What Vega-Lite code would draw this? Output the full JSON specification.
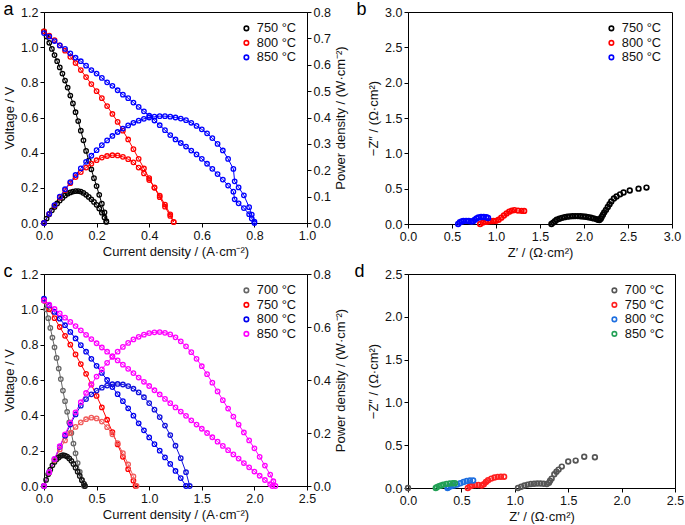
{
"$schema":"https://vega.github.io/schema/vega-lite/v6.json",
"padding":{"left":3,"top":0,"right":2,"bottom":2},
"config":{
 "font":"Liberation Sans",
 "view":{"stroke":"#000","strokeWidth":1},
 "axis":{"grid":false,"domainColor":"#000","tickColor":"#000","labelColor":"#111","titleColor":"#111","labelFontSize":12.5,"titleFontSize":13,"titleFontWeight":"normal","tickSize":4,"labelPadding":2,"titlePadding":4,"labelFlush":false,"labelOverlap":false},
 "legend":{"orient":"top-right","offset":10,"labelFontSize":12.8,"symbolSize":20,"symbolStrokeWidth":1.6,"rowPadding":0.5,"labelOffset":4,"labelColor":"#111"},
 "title":{"anchor":"start","frame":"bounds","fontSize":18,"fontWeight":"normal","color":"#000","offset":-13}
},
"datasets":{
"aV":[
{"t":"750","x":0,"y":1.09},{"t":"750","x":0.01,"y":1.06},{"t":"750","x":0.02,"y":1.025},{"t":"750","x":0.03,"y":0.99},{"t":"750","x":0.04,"y":0.955},{"t":"750","x":0.05,"y":0.92},{"t":"750","x":0.06,"y":0.885},{"t":"750","x":0.07,"y":0.85},{"t":"750","x":0.08,"y":0.81},{"t":"750","x":0.09,"y":0.77},{"t":"750","x":0.1,"y":0.725},{"t":"750","x":0.11,"y":0.68},{"t":"750","x":0.12,"y":0.63},{"t":"750","x":0.13,"y":0.58},{"t":"750","x":0.14,"y":0.525},{"t":"750","x":0.15,"y":0.47},{"t":"750","x":0.16,"y":0.41},{"t":"750","x":0.17,"y":0.355},{"t":"750","x":0.18,"y":0.305},{"t":"750","x":0.19,"y":0.255},{"t":"750","x":0.2,"y":0.21},{"t":"750","x":0.21,"y":0.16},{"t":"750","x":0.22,"y":0.11},{"t":"750","x":0.23,"y":0.06},{"t":"750","x":0.237,"y":0.01},
{"t":"800","x":0,"y":1.09},{"t":"800","x":0.02,"y":1.065},{"t":"800","x":0.04,"y":1.04},{"t":"800","x":0.06,"y":1.01},{"t":"800","x":0.08,"y":0.98},{"t":"800","x":0.1,"y":0.945},{"t":"800","x":0.12,"y":0.91},{"t":"800","x":0.14,"y":0.87},{"t":"800","x":0.16,"y":0.83},{"t":"800","x":0.18,"y":0.79},{"t":"800","x":0.2,"y":0.75},{"t":"800","x":0.22,"y":0.71},{"t":"800","x":0.24,"y":0.665},{"t":"800","x":0.26,"y":0.62},{"t":"800","x":0.28,"y":0.575},{"t":"800","x":0.3,"y":0.525},{"t":"800","x":0.32,"y":0.475},{"t":"800","x":0.34,"y":0.42},{"t":"800","x":0.36,"y":0.365},{"t":"800","x":0.38,"y":0.31},{"t":"800","x":0.4,"y":0.255},{"t":"800","x":0.42,"y":0.2},{"t":"800","x":0.44,"y":0.147},{"t":"800","x":0.46,"y":0.093},{"t":"800","x":0.48,"y":0.04},{"t":"800","x":0.493,"y":0.005},
{"t":"850","x":0,"y":1.08},{"t":"850","x":0.02,"y":1.06},{"t":"850","x":0.04,"y":1.035},{"t":"850","x":0.06,"y":1.01},{"t":"850","x":0.08,"y":0.99},{"t":"850","x":0.1,"y":0.965},{"t":"850","x":0.12,"y":0.94},{"t":"850","x":0.14,"y":0.92},{"t":"850","x":0.16,"y":0.895},{"t":"850","x":0.18,"y":0.87},{"t":"850","x":0.2,"y":0.85},{"t":"850","x":0.22,"y":0.825},{"t":"850","x":0.24,"y":0.8},{"t":"850","x":0.26,"y":0.78},{"t":"850","x":0.28,"y":0.755},{"t":"850","x":0.3,"y":0.73},{"t":"850","x":0.32,"y":0.71},{"t":"850","x":0.34,"y":0.685},{"t":"850","x":0.36,"y":0.66},{"t":"850","x":0.38,"y":0.635},{"t":"850","x":0.4,"y":0.61},{"t":"850","x":0.42,"y":0.583},{"t":"850","x":0.44,"y":0.556},{"t":"850","x":0.46,"y":0.528},{"t":"850","x":0.48,"y":0.5},{"t":"850","x":0.5,"y":0.475},{"t":"850","x":0.52,"y":0.455},{"t":"850","x":0.54,"y":0.435},{"t":"850","x":0.56,"y":0.412},{"t":"850","x":0.58,"y":0.39},{"t":"850","x":0.6,"y":0.365},{"t":"850","x":0.62,"y":0.337},{"t":"850","x":0.64,"y":0.308},{"t":"850","x":0.66,"y":0.278},{"t":"850","x":0.68,"y":0.247},{"t":"850","x":0.7,"y":0.213},{"t":"850","x":0.72,"y":0.178},{"t":"850","x":0.725,"y":0.135},{"t":"850","x":0.74,"y":0.112},{"t":"850","x":0.76,"y":0.085},{"t":"850","x":0.78,"y":0.05},{"t":"850","x":0.79,"y":0.025},{"t":"850","x":0.8,"y":0.0}
],
"aP":[
{"t":"750","x":0,"y":0},{"t":"750","x":0.01,"y":0.017},{"t":"750","x":0.02,"y":0.033},{"t":"750","x":0.03,"y":0.048},{"t":"750","x":0.04,"y":0.061},{"t":"750","x":0.05,"y":0.074},{"t":"750","x":0.06,"y":0.085},{"t":"750","x":0.07,"y":0.095},{"t":"750","x":0.08,"y":0.104},{"t":"750","x":0.09,"y":0.111},{"t":"750","x":0.1,"y":0.116},{"t":"750","x":0.11,"y":0.119},{"t":"750","x":0.12,"y":0.121},{"t":"750","x":0.13,"y":0.121},{"t":"750","x":0.14,"y":0.119},{"t":"750","x":0.15,"y":0.114},{"t":"750","x":0.16,"y":0.107},{"t":"750","x":0.17,"y":0.099},{"t":"750","x":0.18,"y":0.09},{"t":"750","x":0.19,"y":0.08},{"t":"750","x":0.2,"y":0.069},{"t":"750","x":0.21,"y":0.055},{"t":"750","x":0.22,"y":0.039},{"t":"750","x":0.23,"y":0.021},{"t":"750","x":0.237,"y":0.004},
{"t":"800","x":0,"y":0},{"t":"800","x":0.02,"y":0.035},{"t":"800","x":0.04,"y":0.066},{"t":"800","x":0.06,"y":0.097},{"t":"800","x":0.08,"y":0.125},{"t":"800","x":0.1,"y":0.151},{"t":"800","x":0.12,"y":0.174},{"t":"800","x":0.14,"y":0.193},{"t":"800","x":0.16,"y":0.21},{"t":"800","x":0.18,"y":0.225},{"t":"800","x":0.2,"y":0.238},{"t":"800","x":0.22,"y":0.248},{"t":"800","x":0.24,"y":0.254},{"t":"800","x":0.26,"y":0.257},{"t":"800","x":0.28,"y":0.256},{"t":"800","x":0.3,"y":0.251},{"t":"800","x":0.32,"y":0.242},{"t":"800","x":0.34,"y":0.23},{"t":"800","x":0.36,"y":0.21},{"t":"800","x":0.38,"y":0.188},{"t":"800","x":0.4,"y":0.163},{"t":"800","x":0.42,"y":0.135},{"t":"800","x":0.44,"y":0.104},{"t":"800","x":0.46,"y":0.07},{"t":"800","x":0.48,"y":0.033},{"t":"800","x":0.493,"y":0.004},
{"t":"850","x":0,"y":0},{"t":"850","x":0.02,"y":0.035},{"t":"850","x":0.04,"y":0.068},{"t":"850","x":0.06,"y":0.1},{"t":"850","x":0.08,"y":0.128},{"t":"850","x":0.1,"y":0.155},{"t":"850","x":0.12,"y":0.182},{"t":"850","x":0.14,"y":0.207},{"t":"850","x":0.16,"y":0.232},{"t":"850","x":0.18,"y":0.255},{"t":"850","x":0.2,"y":0.276},{"t":"850","x":0.22,"y":0.295},{"t":"850","x":0.24,"y":0.313},{"t":"850","x":0.26,"y":0.33},{"t":"850","x":0.28,"y":0.345},{"t":"850","x":0.3,"y":0.358},{"t":"850","x":0.32,"y":0.37},{"t":"850","x":0.34,"y":0.38},{"t":"850","x":0.36,"y":0.388},{"t":"850","x":0.38,"y":0.395},{"t":"850","x":0.4,"y":0.4},{"t":"850","x":0.42,"y":0.403},{"t":"850","x":0.44,"y":0.405},{"t":"850","x":0.46,"y":0.405},{"t":"850","x":0.48,"y":0.403},{"t":"850","x":0.5,"y":0.4},{"t":"850","x":0.52,"y":0.396},{"t":"850","x":0.54,"y":0.39},{"t":"850","x":0.56,"y":0.38},{"t":"850","x":0.58,"y":0.368},{"t":"850","x":0.6,"y":0.355},{"t":"850","x":0.62,"y":0.34},{"t":"850","x":0.64,"y":0.322},{"t":"850","x":0.66,"y":0.3},{"t":"850","x":0.68,"y":0.275},{"t":"850","x":0.7,"y":0.243},{"t":"850","x":0.72,"y":0.205},{"t":"850","x":0.725,"y":0.158},{"t":"850","x":0.74,"y":0.135},{"t":"850","x":0.76,"y":0.105},{"t":"850","x":0.78,"y":0.06},{"t":"850","x":0.79,"y":0.032},{"t":"850","x":0.8,"y":0.005}
],
"b":[
{"t":"750","x":1.63,"y":0.0},{"t":"750","x":1.65,"y":0.02},{"t":"750","x":1.67,"y":0.04},{"t":"750","x":1.69,"y":0.06},{"t":"750","x":1.72,"y":0.075},{"t":"750","x":1.75,"y":0.087},{"t":"750","x":1.78,"y":0.097},{"t":"750","x":1.81,"y":0.104},{"t":"750","x":1.84,"y":0.108},{"t":"750","x":1.87,"y":0.111},{"t":"750","x":1.9,"y":0.112},{"t":"750","x":1.93,"y":0.112},{"t":"750","x":1.96,"y":0.11},{"t":"750","x":1.99,"y":0.107},{"t":"750","x":2.02,"y":0.102},{"t":"750","x":2.05,"y":0.096},{"t":"750","x":2.08,"y":0.088},{"t":"750","x":2.11,"y":0.079},{"t":"750","x":2.14,"y":0.069},{"t":"750","x":2.16,"y":0.06},{"t":"750","x":2.175,"y":0.055},{"t":"750","x":2.19,"y":0.075},{"t":"750","x":2.2,"y":0.1},{"t":"750","x":2.215,"y":0.13},{"t":"750","x":2.23,"y":0.165},{"t":"750","x":2.25,"y":0.2},{"t":"750","x":2.27,"y":0.24},{"t":"750","x":2.29,"y":0.28},{"t":"750","x":2.31,"y":0.32},{"t":"750","x":2.34,"y":0.36},{"t":"750","x":2.37,"y":0.39},{"t":"750","x":2.41,"y":0.42},{"t":"750","x":2.45,"y":0.445},{"t":"750","x":2.52,"y":0.475},{"t":"750","x":2.62,"y":0.5},{"t":"750","x":2.71,"y":0.515},
{"t":"800","x":0.82,"y":0.0},{"t":"800","x":0.85,"y":0.02},{"t":"800","x":0.88,"y":0.03},{"t":"800","x":0.91,"y":0.035},{"t":"800","x":0.94,"y":0.04},{"t":"800","x":0.97,"y":0.042},{"t":"800","x":1.0,"y":0.045},{"t":"800","x":1.03,"y":0.06},{"t":"800","x":1.06,"y":0.09},{"t":"800","x":1.09,"y":0.12},{"t":"800","x":1.12,"y":0.15},{"t":"800","x":1.15,"y":0.175},{"t":"800","x":1.18,"y":0.19},{"t":"800","x":1.21,"y":0.197},{"t":"800","x":1.25,"y":0.19},{"t":"800","x":1.29,"y":0.186},{"t":"800","x":1.32,"y":0.185},
{"t":"850","x":0.57,"y":0.0},{"t":"850","x":0.59,"y":0.025},{"t":"850","x":0.61,"y":0.037},{"t":"850","x":0.63,"y":0.043},{"t":"850","x":0.66,"y":0.045},{"t":"850","x":0.69,"y":0.042},{"t":"850","x":0.72,"y":0.035},{"t":"850","x":0.74,"y":0.04},{"t":"850","x":0.76,"y":0.06},{"t":"850","x":0.78,"y":0.08},{"t":"850","x":0.8,"y":0.092},{"t":"850","x":0.83,"y":0.1},{"t":"850","x":0.86,"y":0.1},{"t":"850","x":0.89,"y":0.095},{"t":"850","x":0.91,"y":0.085}
],
"cV":[
{"t":"700","x":0,"y":1.05},{"t":"700","x":0.02,"y":1.0},{"t":"700","x":0.04,"y":0.95},{"t":"700","x":0.06,"y":0.895},{"t":"700","x":0.08,"y":0.84},{"t":"700","x":0.1,"y":0.785},{"t":"700","x":0.12,"y":0.725},{"t":"700","x":0.14,"y":0.665},{"t":"700","x":0.16,"y":0.605},{"t":"700","x":0.18,"y":0.54},{"t":"700","x":0.2,"y":0.48},{"t":"700","x":0.22,"y":0.42},{"t":"700","x":0.24,"y":0.36},{"t":"700","x":0.26,"y":0.3},{"t":"700","x":0.28,"y":0.24},{"t":"700","x":0.3,"y":0.185},{"t":"700","x":0.32,"y":0.13},{"t":"700","x":0.34,"y":0.08},{"t":"700","x":0.36,"y":0.035},{"t":"700","x":0.38,"y":0.0},
{"t":"750","x":0,"y":1.05},{"t":"750","x":0.05,"y":1.0},{"t":"750","x":0.1,"y":0.95},{"t":"750","x":0.15,"y":0.9},{"t":"750","x":0.2,"y":0.85},{"t":"750","x":0.25,"y":0.8},{"t":"750","x":0.3,"y":0.745},{"t":"750","x":0.35,"y":0.69},{"t":"750","x":0.4,"y":0.635},{"t":"750","x":0.45,"y":0.575},{"t":"750","x":0.5,"y":0.51},{"t":"750","x":0.55,"y":0.445},{"t":"750","x":0.6,"y":0.375},{"t":"750","x":0.65,"y":0.305},{"t":"750","x":0.7,"y":0.235},{"t":"750","x":0.75,"y":0.165},{"t":"750","x":0.8,"y":0.095},{"t":"750","x":0.85,"y":0.03},{"t":"750","x":0.87,"y":0.0},
{"t":"800","x":0,"y":1.06},{"t":"800","x":0.05,"y":1.022},{"t":"800","x":0.1,"y":0.985},{"t":"800","x":0.15,"y":0.947},{"t":"800","x":0.2,"y":0.91},{"t":"800","x":0.25,"y":0.872},{"t":"800","x":0.3,"y":0.835},{"t":"800","x":0.35,"y":0.797},{"t":"800","x":0.4,"y":0.76},{"t":"800","x":0.45,"y":0.72},{"t":"800","x":0.5,"y":0.68},{"t":"800","x":0.55,"y":0.64},{"t":"800","x":0.6,"y":0.6},{"t":"800","x":0.65,"y":0.56},{"t":"800","x":0.7,"y":0.52},{"t":"800","x":0.75,"y":0.48},{"t":"800","x":0.8,"y":0.44},{"t":"800","x":0.85,"y":0.398},{"t":"800","x":0.9,"y":0.355},{"t":"800","x":0.95,"y":0.315},{"t":"800","x":1.0,"y":0.275},{"t":"800","x":1.05,"y":0.237},{"t":"800","x":1.1,"y":0.2},{"t":"800","x":1.15,"y":0.162},{"t":"800","x":1.2,"y":0.125},{"t":"800","x":1.25,"y":0.085},{"t":"800","x":1.3,"y":0.045},{"t":"800","x":1.35,"y":0.0},
{"t":"850","x":0,"y":1.05},{"t":"850","x":0.05,"y":1.026},{"t":"850","x":0.1,"y":1.002},{"t":"850","x":0.15,"y":0.977},{"t":"850","x":0.2,"y":0.953},{"t":"850","x":0.25,"y":0.929},{"t":"850","x":0.3,"y":0.905},{"t":"850","x":0.35,"y":0.881},{"t":"850","x":0.4,"y":0.856},{"t":"850","x":0.45,"y":0.832},{"t":"850","x":0.5,"y":0.808},{"t":"850","x":0.55,"y":0.784},{"t":"850","x":0.6,"y":0.76},{"t":"850","x":0.65,"y":0.735},{"t":"850","x":0.7,"y":0.711},{"t":"850","x":0.75,"y":0.687},{"t":"850","x":0.8,"y":0.663},{"t":"850","x":0.85,"y":0.639},{"t":"850","x":0.9,"y":0.614},{"t":"850","x":0.95,"y":0.59},{"t":"850","x":1.0,"y":0.566},{"t":"850","x":1.05,"y":0.542},{"t":"850","x":1.1,"y":0.518},{"t":"850","x":1.15,"y":0.493},{"t":"850","x":1.2,"y":0.469},{"t":"850","x":1.25,"y":0.445},{"t":"850","x":1.3,"y":0.421},{"t":"850","x":1.35,"y":0.397},{"t":"850","x":1.4,"y":0.372},{"t":"850","x":1.45,"y":0.348},{"t":"850","x":1.5,"y":0.324},{"t":"850","x":1.55,"y":0.3},{"t":"850","x":1.6,"y":0.276},{"t":"850","x":1.65,"y":0.251},{"t":"850","x":1.7,"y":0.227},{"t":"850","x":1.75,"y":0.203},{"t":"850","x":1.8,"y":0.179},{"t":"850","x":1.85,"y":0.155},{"t":"850","x":1.9,"y":0.13},{"t":"850","x":1.95,"y":0.106},{"t":"850","x":2.0,"y":0.082},{"t":"850","x":2.05,"y":0.058},{"t":"850","x":2.1,"y":0.034},{"t":"850","x":2.15,"y":0.01},{"t":"850","x":2.17,"y":0.0}
],
"cP":[
{"t":"700","x":0,"y":0},{"t":"700","x":0.02,"y":0.023},{"t":"700","x":0.04,"y":0.044},{"t":"700","x":0.06,"y":0.062},{"t":"700","x":0.08,"y":0.078},{"t":"700","x":0.1,"y":0.091},{"t":"700","x":0.12,"y":0.101},{"t":"700","x":0.14,"y":0.108},{"t":"700","x":0.16,"y":0.114},{"t":"700","x":0.18,"y":0.116},{"t":"700","x":0.2,"y":0.115},{"t":"700","x":0.22,"y":0.111},{"t":"700","x":0.24,"y":0.104},{"t":"700","x":0.26,"y":0.095},{"t":"700","x":0.28,"y":0.083},{"t":"700","x":0.3,"y":0.069},{"t":"700","x":0.32,"y":0.054},{"t":"700","x":0.34,"y":0.038},{"t":"700","x":0.36,"y":0.022},{"t":"700","x":0.38,"y":0.008},{"t":"700","x":0.39,"y":0.0},
{"t":"750","x":0,"y":0},{"t":"750","x":0.05,"y":0.051},{"t":"750","x":0.1,"y":0.098},{"t":"750","x":0.15,"y":0.138},{"t":"750","x":0.2,"y":0.172},{"t":"750","x":0.25,"y":0.2},{"t":"750","x":0.3,"y":0.223},{"t":"750","x":0.35,"y":0.24},{"t":"750","x":0.4,"y":0.252},{"t":"750","x":0.45,"y":0.258},{"t":"750","x":0.5,"y":0.255},{"t":"750","x":0.55,"y":0.243},{"t":"750","x":0.6,"y":0.222},{"t":"750","x":0.65,"y":0.195},{"t":"750","x":0.7,"y":0.162},{"t":"750","x":0.75,"y":0.124},{"t":"750","x":0.8,"y":0.082},{"t":"750","x":0.85,"y":0.036},{"t":"750","x":0.88,"y":0.0},
{"t":"800","x":0,"y":0},{"t":"800","x":0.05,"y":0.052},{"t":"800","x":0.1,"y":0.101},{"t":"800","x":0.15,"y":0.148},{"t":"800","x":0.2,"y":0.19},{"t":"800","x":0.25,"y":0.232},{"t":"800","x":0.3,"y":0.27},{"t":"800","x":0.35,"y":0.303},{"t":"800","x":0.4,"y":0.328},{"t":"800","x":0.45,"y":0.346},{"t":"800","x":0.5,"y":0.36},{"t":"800","x":0.55,"y":0.371},{"t":"800","x":0.6,"y":0.379},{"t":"800","x":0.65,"y":0.384},{"t":"800","x":0.7,"y":0.385},{"t":"800","x":0.75,"y":0.383},{"t":"800","x":0.8,"y":0.377},{"t":"800","x":0.85,"y":0.367},{"t":"800","x":0.9,"y":0.353},{"t":"800","x":0.95,"y":0.335},{"t":"800","x":1.0,"y":0.313},{"t":"800","x":1.05,"y":0.288},{"t":"800","x":1.1,"y":0.26},{"t":"800","x":1.15,"y":0.228},{"t":"800","x":1.2,"y":0.192},{"t":"800","x":1.25,"y":0.152},{"t":"800","x":1.3,"y":0.105},{"t":"800","x":1.35,"y":0.052},{"t":"800","x":1.385,"y":0.0},
{"t":"850","x":0,"y":0},{"t":"850","x":0.05,"y":0.052},{"t":"850","x":0.1,"y":0.102},{"t":"850","x":0.15,"y":0.15},{"t":"850","x":0.2,"y":0.195},{"t":"850","x":0.25,"y":0.238},{"t":"850","x":0.3,"y":0.278},{"t":"850","x":0.35,"y":0.316},{"t":"850","x":0.4,"y":0.351},{"t":"850","x":0.45,"y":0.383},{"t":"850","x":0.5,"y":0.413},{"t":"850","x":0.55,"y":0.44},{"t":"850","x":0.6,"y":0.465},{"t":"850","x":0.65,"y":0.487},{"t":"850","x":0.7,"y":0.507},{"t":"850","x":0.75,"y":0.525},{"t":"850","x":0.8,"y":0.54},{"t":"850","x":0.85,"y":0.553},{"t":"850","x":0.9,"y":0.563},{"t":"850","x":0.95,"y":0.571},{"t":"850","x":1.0,"y":0.577},{"t":"850","x":1.05,"y":0.58},{"t":"850","x":1.1,"y":0.581},{"t":"850","x":1.15,"y":0.578},{"t":"850","x":1.2,"y":0.572},{"t":"850","x":1.25,"y":0.561},{"t":"850","x":1.3,"y":0.546},{"t":"850","x":1.35,"y":0.527},{"t":"850","x":1.4,"y":0.505},{"t":"850","x":1.45,"y":0.48},{"t":"850","x":1.5,"y":0.452},{"t":"850","x":1.55,"y":0.422},{"t":"850","x":1.6,"y":0.39},{"t":"850","x":1.65,"y":0.357},{"t":"850","x":1.7,"y":0.324},{"t":"850","x":1.75,"y":0.292},{"t":"850","x":1.8,"y":0.262},{"t":"850","x":1.85,"y":0.232},{"t":"850","x":1.9,"y":0.202},{"t":"850","x":1.95,"y":0.172},{"t":"850","x":2.0,"y":0.142},{"t":"850","x":2.05,"y":0.11},{"t":"850","x":2.1,"y":0.077},{"t":"850","x":2.15,"y":0.043},{"t":"850","x":2.18,"y":0.018},{"t":"850","x":2.2,"y":0.0}
],
"d":[
{"t":"700","x":0,"y":0},{"t":"700","x":1.03,"y":0.0},{"t":"700","x":1.06,"y":0.015},{"t":"700","x":1.09,"y":0.03},{"t":"700","x":1.12,"y":0.04},{"t":"700","x":1.15,"y":0.047},{"t":"700","x":1.18,"y":0.05},{"t":"700","x":1.21,"y":0.052},{"t":"700","x":1.24,"y":0.052},{"t":"700","x":1.27,"y":0.05},{"t":"700","x":1.3,"y":0.047},{"t":"700","x":1.32,"y":0.06},{"t":"700","x":1.33,"y":0.085},{"t":"700","x":1.345,"y":0.11},{"t":"700","x":1.37,"y":0.16},{"t":"700","x":1.39,"y":0.19},{"t":"700","x":1.41,"y":0.215},{"t":"700","x":1.44,"y":0.25},{"t":"700","x":1.5,"y":0.31},{"t":"700","x":1.57,"y":0.32},{"t":"700","x":1.65,"y":0.365},{"t":"700","x":1.75,"y":0.36},
{"t":"750","x":0.56,"y":0.0},{"t":"750","x":0.58,"y":0.02},{"t":"750","x":0.6,"y":0.03},{"t":"750","x":0.63,"y":0.035},{"t":"750","x":0.66,"y":0.035},{"t":"750","x":0.69,"y":0.03},{"t":"750","x":0.71,"y":0.045},{"t":"750","x":0.73,"y":0.07},{"t":"750","x":0.75,"y":0.09},{"t":"750","x":0.78,"y":0.11},{"t":"750","x":0.81,"y":0.122},{"t":"750","x":0.84,"y":0.13},{"t":"750","x":0.87,"y":0.132},{"t":"750","x":0.9,"y":0.132},
{"t":"800","x":0.37,"y":0.0},{"t":"800","x":0.38,"y":0.01},{"t":"800","x":0.4,"y":0.02},{"t":"800","x":0.43,"y":0.03},{"t":"800","x":0.46,"y":0.04},{"t":"800","x":0.49,"y":0.055},{"t":"800","x":0.52,"y":0.07},{"t":"800","x":0.55,"y":0.082},{"t":"800","x":0.58,"y":0.088},{"t":"800","x":0.61,"y":0.088},
{"t":"850","x":0.26,"y":0.0},{"t":"850","x":0.27,"y":0.01},{"t":"850","x":0.29,"y":0.022},{"t":"850","x":0.31,"y":0.03},{"t":"850","x":0.33,"y":0.04},{"t":"850","x":0.36,"y":0.048},{"t":"850","x":0.39,"y":0.053},{"t":"850","x":0.42,"y":0.055},{"t":"850","x":0.44,"y":0.055}
]
},
"spacing":2,
"resolve":{"scale":{"color":"independent"},"legend":{"color":"independent"}},
"vconcat":[
{"hconcat":[
 {"title":"a","width":263,"height":211,
  "layer":[
   {"data":{"name":"aV"},
    "encoding":{
     "x":{"field":"x","type":"quantitative","scale":{"domain":[0,1]},"axis":{"title":"Current density / (A·cm⁻²)","values":[0,0.2,0.4,0.6,0.8,1],"format":".1f"}},
     "y":{"field":"y","type":"quantitative","scale":{"domain":[0,1.2]},"axis":{"title":"Voltage / V","values":[0,0.2,0.4,0.6,0.8,1,1.2],"format":".1f"}},
     "color":{"field":"t","type":"nominal","scale":{"domain":["750","800","850"],"range":["#000000","#ff0000","#0000ff"]},"legend":{"title":null,"labelExpr":"datum.label + ' °C'"}}
    },
    "layer":[{"mark":{"type":"line","strokeWidth":1}},{"mark":{"type":"point","filled":false,"size":20,"strokeWidth":1.3,"opacity":1}}]
   },
   {"data":{"name":"aP"},
    "encoding":{
     "x":{"field":"x","type":"quantitative","scale":{"domain":[0,1]}},
     "y":{"field":"y","type":"quantitative","scale":{"domain":[0,0.8]},"axis":{"orient":"right","title":"Power density / (W·cm⁻²)","values":[0,0.1,0.2,0.3,0.4,0.5,0.6,0.7,0.8],"format":".1f","titleAngle":270,"titleBaseline":"top"}},
     "color":{"field":"t","type":"nominal","scale":{"domain":["750","800","850"],"range":["#000000","#ff0000","#0000ff"]},"legend":{"title":null,"labelExpr":"datum.label + ' °C'"}}
    },
    "layer":[{"mark":{"type":"line","strokeWidth":1}},{"mark":{"type":"point","filled":false,"size":20,"strokeWidth":1.3,"opacity":1}}]
   }
  ],
  "resolve":{"scale":{"y":"independent"}}
 },
 {"title":{"text":"b","dx":-11},"width":264,"height":212,"data":{"name":"b"},
  "mark":{"type":"point","filled":false,"size":22,"strokeWidth":1.7,"opacity":1},
  "encoding":{
   "x":{"field":"x","type":"quantitative","scale":{"domain":[0,3]},"axis":{"title":"Z′ / (Ω·cm²)","values":[0,0.5,1,1.5,2,2.5,3],"format":".1f"}},
   "y":{"field":"y","type":"quantitative","scale":{"domain":[0,3]},"axis":{"title":"−Z″ / (Ω·cm²)","values":[0,0.5,1,1.5,2,2.5,3],"format":".1f"}},
   "color":{"field":"t","type":"nominal","scale":{"domain":["750","800","850"],"range":["#000000","#ff0000","#0000ff"]},"legend":{"title":null,"labelExpr":"datum.label + ' °C'"}}
  }
 }
],"spacing":8,"resolve":{"scale":{"color":"independent"},"legend":{"color":"independent"}}},
{"hconcat":[
 {"title":"c","width":263,"height":212,
  "layer":[
   {"data":{"name":"cV"},
    "encoding":{
     "x":{"field":"x","type":"quantitative","scale":{"domain":[0,2.5]},"axis":{"title":"Current density / (A·cm⁻²)","values":[0,0.5,1,1.5,2,2.5],"format":".1f"}},
     "y":{"field":"y","type":"quantitative","scale":{"domain":[0,1.2]},"axis":{"title":"Voltage / V","values":[0,0.2,0.4,0.6,0.8,1,1.2],"format":".1f"}},
     "color":{"field":"t","type":"nominal","scale":{"domain":["700","750","800","850"],"range":["#666666","#ff0000","#0000ee","#ff00ff"]},"legend":{"title":null,"labelExpr":"datum.label + ' °C'"}}
    },
    "layer":[{"mark":{"type":"line","strokeWidth":1}},{"mark":{"type":"point","filled":false,"size":20,"strokeWidth":1.3,"opacity":1}}]
   },
   {"data":{"name":"cP"},
    "encoding":{
     "x":{"field":"x","type":"quantitative","scale":{"domain":[0,2.5]}},
     "y":{"field":"y","type":"quantitative","scale":{"domain":[0,0.8]},"axis":{"orient":"right","title":"Power density / (W·cm⁻²)","values":[0,0.2,0.4,0.6,0.8],"format":".1f","titleAngle":270,"titleBaseline":"top"}},
     "color":{"field":"t","type":"nominal","scale":{"domain":["700","750","800","850"],"range":["#111111","#f05a5a","#1010dd","#ff00ff"]},"legend":null}
    },
    "layer":[{"mark":{"type":"line","strokeWidth":1}},{"mark":{"type":"point","filled":false,"size":20,"strokeWidth":1.3,"opacity":1}}]
   }
  ],
  "resolve":{"scale":{"y":"independent","color":"independent"}}
 },
 {"title":{"text":"d","dx":-13},"width":267,"height":214,"data":{"name":"d"},
  "mark":{"type":"point","filled":false,"size":22,"strokeWidth":1.7,"opacity":1},
  "encoding":{
   "x":{"field":"x","type":"quantitative","scale":{"domain":[0,2.5]},"axis":{"title":"Z′ / (Ω·cm²)","values":[0,0.5,1,1.5,2,2.5],"format":".1f"}},
   "y":{"field":"y","type":"quantitative","scale":{"domain":[0,2.5]},"axis":{"title":"−Z″ / (Ω·cm²)","values":[0,0.5,1,1.5,2,2.5],"format":".1f"}},
   "color":{"field":"t","type":"nominal","scale":{"domain":["700","750","800","850"],"range":["#555555","#ff2020","#1e6fe0","#22a055"]},"legend":{"title":null,"labelExpr":"datum.label + ' °C'"}}
  }
 }
],"spacing":6,"resolve":{"scale":{"color":"independent"},"legend":{"color":"independent"}}}
]
}
